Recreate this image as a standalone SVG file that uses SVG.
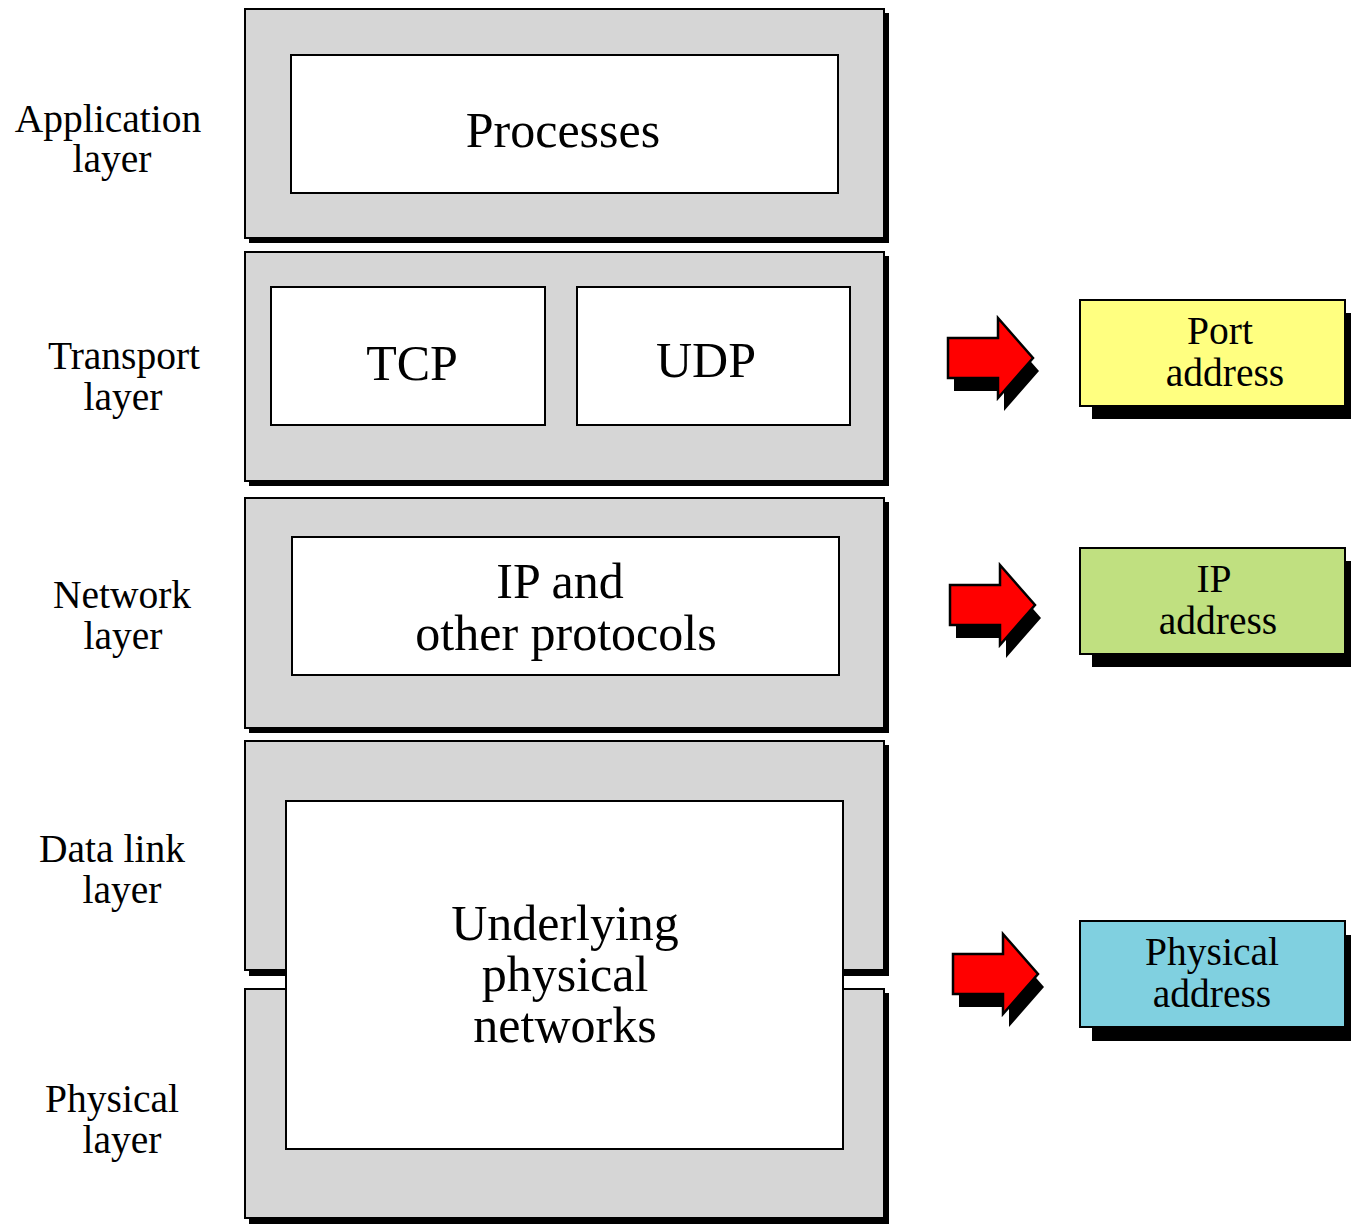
<svg xmlns="http://www.w3.org/2000/svg" width="1351" height="1224" viewBox="0 0 1351 1224">
  <defs>
    <style>
      .layer { fill: #d6d6d6; stroke: #000; stroke-width: 2; }
      .shadow { fill: #000; }
      .inner { fill: #fff; stroke: #000; stroke-width: 2; }
      .lbl { font-family: "Liberation Serif", "Times New Roman", serif; font-size: 39.5px; fill: #000; text-anchor: middle; }
      .big { font-family: "Liberation Serif", "Times New Roman", serif; font-size: 50px; fill: #000; text-anchor: middle; }
      .arrow { fill: #ff0000; stroke: #000; stroke-width: 2.5; stroke-linejoin: miter; }
      .addr { stroke: #000; stroke-width: 2; }
    </style>
    <path id="arrowShape" d="M0,20 H50 V0 L85,40 L50,80 V60 H0 Z"/>
  </defs>
  <rect width="1351" height="1224" fill="#fff"/>

  <!-- layer labels -->
  <g id="labels">
    <text class="lbl" x="108" y="132">Application</text>
    <text class="lbl" x="112" y="172">layer</text>
    <text class="lbl" x="124" y="369">Transport</text>
    <text class="lbl" x="123" y="410">layer</text>
    <text class="lbl" x="122" y="608">Network</text>
    <text class="lbl" x="123" y="649">layer</text>
    <text class="lbl" x="112" y="862">Data link</text>
    <text class="lbl" x="122" y="903">layer</text>
    <text class="lbl" x="112" y="1112">Physical</text>
    <text class="lbl" x="122" y="1153">layer</text>
  </g>

  <!-- application layer -->
  <g id="application-layer">
    <rect class="shadow" x="249" y="13" width="640" height="230"/>
    <rect class="layer" x="245" y="9" width="639" height="229"/>
    <rect class="inner" x="291" y="55" width="547" height="138"/>
    <text class="big" x="563" y="147">Processes</text>
  </g>

  <!-- transport layer -->
  <g id="transport-layer">
    <rect class="shadow" x="249" y="256" width="640" height="230"/>
    <rect class="layer" x="245" y="252" width="639" height="229"/>
    <rect class="inner" x="271" y="287" width="274" height="138"/>
    <text class="big" x="412" y="380">TCP</text>
    <rect class="inner" x="577" y="287" width="273" height="138"/>
    <text class="big" x="706" y="377">UDP</text>
  </g>

  <!-- network layer -->
  <g id="network-layer">
    <rect class="shadow" x="249" y="502" width="640" height="231"/>
    <rect class="layer" x="245" y="498" width="639" height="230"/>
    <rect class="inner" x="292" y="537" width="547" height="138"/>
    <text class="big" x="560" y="598">IP and</text>
    <text class="big" x="566" y="650">other protocols</text>
  </g>

  <!-- data link layer -->
  <g id="data-link-layer">
    <rect class="shadow" x="249" y="745" width="640" height="231"/>
    <rect class="layer" x="245" y="741" width="639" height="229"/>
  </g>

  <!-- physical layer -->
  <g id="physical-layer">
    <rect class="shadow" x="249" y="993" width="640" height="231"/>
    <rect class="layer" x="245" y="989" width="639" height="229"/>
  </g>

  <!-- shared box spanning data link and physical layers -->
  <g id="underlying-networks">
    <rect class="inner" x="286" y="801" width="557" height="348"/>
    <text class="big" x="565" y="940">Underlying</text>
    <text class="big" x="565" y="991">physical</text>
    <text class="big" x="565" y="1042">networks</text>
  </g>

  <!-- arrows pointing to the addresses -->
  <g id="connectors">
    <use href="#arrowShape" x="954" y="331" fill="#000"/>
    <use href="#arrowShape" class="arrow" x="948" y="318"/>
    <use href="#arrowShape" x="956" y="578" fill="#000"/>
    <use href="#arrowShape" class="arrow" x="950" y="565"/>
    <use href="#arrowShape" x="959" y="947" fill="#000"/>
    <use href="#arrowShape" class="arrow" x="953" y="934"/>
  </g>

  <!-- address boxes -->
  <g id="port-address">
    <rect class="shadow" x="1092" y="313" width="265" height="106"/>
    <rect class="addr" x="1080" y="300" width="265" height="106" fill="#ffff80"/>
    <text class="lbl" x="1220" y="344">Port</text>
    <text class="lbl" x="1225" y="386">address</text>
  </g>
  <g id="ip-address">
    <rect class="shadow" x="1092" y="561" width="265" height="106"/>
    <rect class="addr" x="1080" y="548" width="265" height="106" fill="#c0e080"/>
    <text class="lbl" x="1214" y="592">IP</text>
    <text class="lbl" x="1218" y="634">address</text>
  </g>
  <g id="physical-address">
    <rect class="shadow" x="1092" y="935" width="265" height="106"/>
    <rect class="addr" x="1080" y="921" width="265" height="106" fill="#80d0e0"/>
    <text class="lbl" x="1212" y="965">Physical</text>
    <text class="lbl" x="1212" y="1007">address</text>
  </g>
</svg>
